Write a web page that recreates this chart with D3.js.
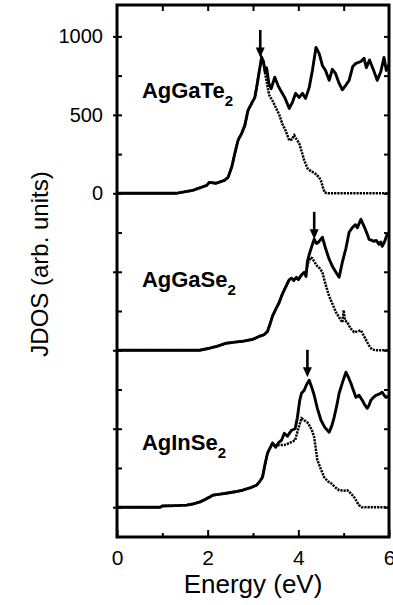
<!DOCTYPE html>
<html>
<head>
<meta charset="utf-8">
<script src="https://cdn.jsdelivr.net/npm/d3@7"></script>
<style>
  body { margin: 0; background: #fff; }
  svg { display: block; font-family: "Liberation Sans", Arial, Helvetica, sans-serif; }
</style>
</head>
<body>
<div id="chart"></div>
<script>
'use strict';

// compound names, top to bottom
var compounds = ['AgGaTe', 'AgGaSe', 'AgInSe'];

// AgGaTe2 : total JDOS (solid) and partial (dotted)
var teSolidE = [0, 1.3, 1.67, 1.98, 2.04, 2.18, 2.37, 2.45, 2.53, 2.6, 2.67, 2.75, 2.82, 2.89, 2.97, 3.04, 3.08, 3.13, 3.19, 3.23, 3.27, 3.3, 3.35, 3.4, 3.48, 3.55, 3.62, 3.7, 3.8, 3.87, 3.94, 4.02, 4.09, 4.16, 4.24, 4.31, 4.39, 4.46, 4.53, 4.6, 4.68, 4.75, 4.82, 4.9, 4.97, 5.05, 5.12, 5.2, 5.27, 5.38, 5.45, 5.5, 5.57, 5.67, 5.74, 5.82, 5.89, 5.94, 6.0];
var teSolidV = [0, 0, 19, 51, 70, 64, 83, 102, 166, 255, 338, 382, 433, 529, 573, 611, 675, 764, 866, 840, 770, 800, 700, 666, 740, 688, 650, 611, 541, 580, 637, 611, 637, 605, 675, 783, 930, 890, 815, 783, 720, 790, 764, 700, 660, 690, 720, 808, 828, 840, 860, 800, 850, 776, 720, 776, 866, 783, 820];
var teDotE = [0, 1.3, 1.67, 1.98, 2.04, 2.18, 2.37, 2.45, 2.53, 2.6, 2.67, 2.75, 2.82, 2.89, 2.97, 3.04, 3.08, 3.13, 3.19, 3.23, 3.27, 3.32, 3.36, 3.43, 3.5, 3.58, 3.65, 3.72, 3.8, 3.86, 3.91, 3.97, 4.02, 4.08, 4.13, 4.2, 4.28, 4.35, 4.4, 4.46, 4.5, 4.54, 4.58, 4.65, 6.0];
var teDotV = [0, 0, 19, 51, 70, 64, 83, 102, 166, 255, 338, 382, 433, 529, 573, 611, 675, 764, 866, 840, 760, 680, 624, 590, 548, 500, 440, 400, 337, 345, 370, 340, 318, 260, 210, 160, 140, 130, 120, 100, 80, 40, 5, 0, 0];

// AgGaSe2
var seSolidE = [0, 1.82, 2.04, 2.2, 2.41, 2.6, 2.77, 3.0, 3.14, 3.25, 3.32, 3.38, 3.43, 3.5, 3.58, 3.65, 3.73, 3.8, 3.85, 3.9, 3.96, 4.0, 4.07, 4.13, 4.17, 4.2, 4.25, 4.3, 4.35, 4.4, 4.45, 4.53, 4.6, 4.68, 4.76, 4.83, 4.9, 4.97, 5.05, 5.12, 5.2, 5.26, 5.3, 5.38, 5.45, 5.52, 5.56, 5.62, 5.67, 5.72, 5.78, 5.82, 5.85, 5.9, 5.96, 6.0];
var seSolidV = [0, 0, 13, 25, 45, 52, 57, 70, 89, 100, 120, 170, 217, 260, 306, 360, 408, 450, 459, 445, 465, 450, 480, 497, 470, 567, 620, 665, 707, 680, 690, 720, 650, 580, 530, 497, 465, 560, 650, 752, 785, 800, 780, 834, 790, 740, 707, 700, 694, 700, 675, 690, 662, 690, 739, 730];
var seDotE = [0, 1.82, 2.04, 2.2, 2.41, 2.6, 2.77, 3.0, 3.14, 3.25, 3.32, 3.38, 3.43, 3.5, 3.58, 3.65, 3.73, 3.8, 3.85, 3.9, 3.96, 4.0, 4.07, 4.13, 4.17, 4.22, 4.27, 4.31, 4.36, 4.42, 4.48, 4.53, 4.6, 4.68, 4.76, 4.83, 4.9, 4.97, 5.0, 5.03, 5.08, 5.15, 5.23, 5.3, 5.38, 5.45, 5.52, 5.58, 5.63, 5.7, 6.0];
var seDotV = [0, 0, 13, 25, 45, 52, 57, 70, 89, 100, 120, 170, 217, 260, 306, 360, 408, 450, 459, 445, 465, 450, 480, 497, 500, 560, 590, 586, 560, 535, 520, 497, 420, 344, 290, 242, 210, 178, 255, 190, 178, 140, 115, 120, 127, 90, 51, 20, 5, 0, 0];

// AgInSe2
var inSolidE = [0, 0.95, 1.0, 1.3, 1.54, 1.7, 1.82, 1.95, 2.04, 2.11, 2.2, 2.41, 2.6, 2.77, 2.95, 3.08, 3.15, 3.21, 3.27, 3.32, 3.38, 3.43, 3.5, 3.56, 3.63, 3.69, 3.76, 3.8, 3.85, 3.93, 3.98, 4.03, 4.07, 4.13, 4.18, 4.24, 4.3, 4.35, 4.42, 4.5, 4.58, 4.68, 4.74, 4.79, 4.85, 4.9, 4.98, 5.05, 5.1, 5.16, 5.22, 5.27, 5.34, 5.41, 5.47, 5.52, 5.56, 5.6, 5.66, 5.71, 5.78, 5.85, 5.9, 5.93, 6.0];
var inSolidV = [0, 0, 8, 10, 13, 22, 32, 50, 64, 76, 80, 89, 98, 108, 125, 140, 165, 191, 280, 344, 380, 408, 382, 410, 427, 471, 452, 470, 490, 500, 573, 680, 726, 745, 780, 809, 760, 713, 630, 554, 510, 478, 520, 573, 650, 726, 800, 860, 830, 790, 740, 700, 713, 681, 650, 630, 650, 681, 700, 713, 720, 732, 710, 700, 710];
var inDotE = [0, 0.95, 1.0, 1.3, 1.54, 1.7, 1.82, 1.95, 2.04, 2.11, 2.2, 2.41, 2.6, 2.77, 2.95, 3.08, 3.15, 3.21, 3.27, 3.32, 3.38, 3.43, 3.5, 3.58, 3.69, 3.8, 3.93, 4.0, 4.07, 4.13, 4.2, 4.24, 4.3, 4.35, 4.42, 4.5, 4.57, 4.65, 4.72, 4.8, 4.9, 5.0, 5.08, 5.15, 5.23, 5.3, 5.34, 5.4, 6.0];
var inDotV = [0, 0, 8, 10, 13, 22, 32, 50, 64, 76, 80, 89, 98, 108, 125, 140, 165, 191, 280, 344, 380, 408, 390, 396, 396, 408, 427, 500, 567, 554, 540, 522, 490, 446, 300, 240, 191, 165, 153, 130, 108, 105, 108, 90, 64, 30, 13, 0, 0];

// peak markers (energy, JDOS at arrow tip)
var arrowE = [3.16, 4.35, 4.2];
var arrowV = [866, 707, 828];

// axis ticks
var xMajor = [0, 2, 4, 6],
    xMinor = [1, 3, 5],
    yLabels = ['0', '500', '1000'];

var panelStep = 1000; // vertical offset between stacked spectra

var width = 393,
    height = 605;

var svg = d3.select('#chart').append('svg')
  .attr('width', width)
  .attr('height', height);

var x = d3.scaleLinear()
  .domain([0, 6])
  .range([117, 389]);

var y = d3.scaleLinear()
  .domain([-190, 3200])
  .range([537, 5]);

var panels = [
  {name: compounds[0], solid: d3.zip(teSolidE, teSolidV), dot: d3.zip(teDotE, teDotV), offset: 2 * panelStep, arrow: [arrowE[0], arrowV[0]]},
  {name: compounds[1], solid: d3.zip(seSolidE, seSolidV), dot: d3.zip(seDotE, seDotV), offset: 1 * panelStep, arrow: [arrowE[1], arrowV[1]]},
  {name: compounds[2], solid: d3.zip(inSolidE, inSolidV), dot: d3.zip(inDotE, inDotV), offset: 0, arrow: [arrowE[2], arrowV[2]]}
];

// tick values every 250 over the stacked range
var yAll = d3.range(0, 3001, 250),
    yMajor = d3.range(0, 3001, 500);

function strip(g) {
  g.select('.domain').remove();
  g.selectAll('line').attr('stroke', '#000').attr('stroke-width', 2);
}

// bottom axis
svg.append('g')
  .attr('transform', 'translate(0,' + y(-190) + ')')
  .call(d3.axisBottom(x).tickValues(xMajor).tickFormat(d3.format('d'))
    .tickSizeInner(-7).tickSizeOuter(0).tickPadding(13))
  .call(strip)
  .selectAll('text')
  .attr('font-size', 21)
  .attr('fill', '#000');

svg.append('g')
  .attr('transform', 'translate(0,' + y(-190) + ')')
  .call(d3.axisBottom(x).tickValues(xMinor).tickSize(-4).tickFormat(''))
  .call(strip);

// top axis
svg.append('g')
  .attr('transform', 'translate(0,' + y(3200) + ')')
  .call(d3.axisTop(x).tickValues(xMinor.concat([2, 4])).tickSize(-6).tickFormat(''))
  .call(strip);

// left axis: labels only on the top spectrum
svg.append('g')
  .attr('transform', 'translate(' + x(0) + ',0)')
  .call(d3.axisLeft(y).tickValues(yMajor).tickSize(4).tickPadding(10)
    .tickFormat(function (d) {
      var i = (d - 2 * panelStep) / 500;
      return i >= 0 ? yLabels[i] : '';
    }))
  .call(strip)
  .selectAll('text')
  .attr('font-size', 20)
  .attr('fill', '#000');

svg.append('g')
  .attr('transform', 'translate(' + x(0) + ',0)')
  .call(d3.axisLeft(y).tickValues(yAll).tickSize(-5).tickFormat(''))
  .call(strip);

// right axis
svg.append('g')
  .attr('transform', 'translate(' + x(6) + ',0)')
  .call(d3.axisRight(y).tickValues(yAll).tickSize(-5).tickFormat(''))
  .call(strip);

// frame
svg.append('rect')
  .attr('x', x(0))
  .attr('y', y(3200))
  .attr('width', x(6) - x(0))
  .attr('height', y(-190) - y(3200))
  .attr('fill', 'none')
  .attr('stroke', '#000')
  .attr('stroke-width', 3);

panels.forEach(function (p) {
  var line = d3.line()
    .x(function (d) { return x(d[0]); })
    .y(function (d) { return y(d[1] + p.offset); });

  svg.append('path')
    .datum(p.dot)
    .attr('d', line)
    .attr('fill', 'none')
    .attr('stroke', '#000')
    .attr('stroke-width', 2.5)
    .attr('stroke-dasharray', '2.2,1');

  svg.append('path')
    .datum(p.solid)
    .attr('d', line)
    .attr('fill', 'none')
    .attr('stroke', '#000')
    .attr('stroke-width', 2.9)
    .attr('stroke-linejoin', 'round');

  // arrow pointing down at the peak
  var ax = x(p.arrow[0]),
      tip = y(p.arrow[1] + p.offset),
      top = y(p.arrow[1] + 175 + p.offset);

  svg.append('line')
    .attr('x1', ax).attr('x2', ax)
    .attr('y1', top).attr('y2', tip - 6)
    .attr('stroke', '#000')
    .attr('stroke-width', 2.6);

  svg.append('path')
    .attr('d', 'M' + (ax - 4.5) + ',' + (tip - 10) + 'L' + (ax + 4.5) + ',' + (tip - 10) + 'L' + ax + ',' + tip + 'Z')
    .attr('fill', '#000');
});

// compound labels
var labelY = [610, 400, 362];
panels.forEach(function (p, i) {
  var t = svg.append('text')
    .attr('x', x(0.55))
    .attr('y', y(labelY[i] + p.offset))
    .attr('font-size', 22)
    .attr('font-weight', 'bold')
    .attr('fill', '#000')
    .text(p.name);
  t.append('tspan')
    .attr('dy', 8)
    .attr('font-size', 15)
    .text('2');
});

// axis titles
svg.append('text')
  .attr('x', (x(0) + x(6)) / 2)
  .attr('y', 593)
  .attr('text-anchor', 'middle')
  .attr('font-size', 26)
  .attr('fill', '#000')
  .text('Energy (eV)');

svg.append('text')
  .attr('transform', 'translate(48,' + 264 + ') rotate(-90)')
  .attr('text-anchor', 'middle')
  .attr('font-size', 24)
  .attr('fill', '#000')
  .text('JDOS (arb. units)');
</script>
</body>
</html>
